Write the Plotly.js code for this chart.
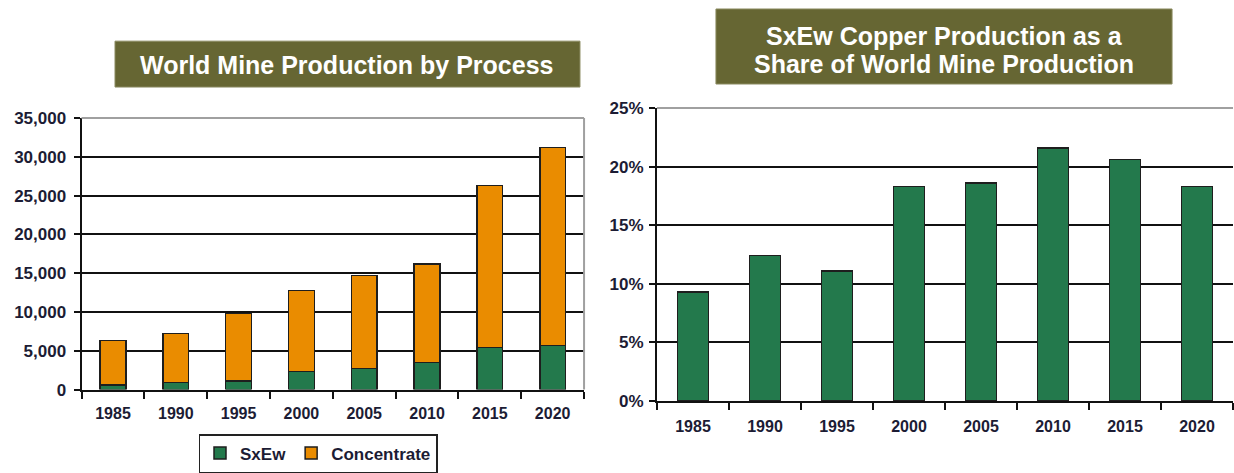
<!DOCTYPE html>
<html>
<head>
<meta charset="utf-8">
<script src="https://cdn.plot.ly/plotly-3.0.1.min.js"></script>
<style>
  html, body { margin: 0; padding: 0; background: #fff; }
  #chart { width: 1234px; height: 473px; }
</style>
</head>
<body>
<div id="chart"></div>
<script>
// years shared by both panels
var years = ['1985', '1990', '1995', '2000', '2005', '2010', '2015', '2020'];

// world mine production by process (kt copper)
var sxewProd = [590, 890, 1090, 2320, 2720, 3480, 5400, 5700];
var concProd = [5710, 6310, 8710, 10480, 11980, 12720, 20900, 25500];

// SxEw share of world mine production
var sxewShare = [0.093, 0.124, 0.111, 0.183, 0.186, 0.216, 0.206, 0.183];

var green = '#23794c';
var orange = '#ea8c00';
var outline = { color: '#1e1e1e', width: 1.5 };
var fam = 'Liberation Sans, Arial, sans-serif';

var tickFont = { family: fam, size: 17, color: '#1c1c34', weight: 'bold' };
var xFont = { family: fam, size: 16, color: '#1c1c34', weight: 'bold' };

var traceSx = {
    x: years, y: sxewProd, type: 'bar', name: 'SxEw',
    xaxis: 'x', yaxis: 'y', width: 0.41,
    marker: { color: green, line: outline }
};
var traceConc = {
    x: years, y: concProd, type: 'bar', name: 'Concentrate',
    xaxis: 'x', yaxis: 'y', width: 0.41,
    marker: { color: orange, line: outline }
};
var traceShare = {
    x: years, y: sxewShare, type: 'bar', name: 'Share',
    xaxis: 'x2', yaxis: 'y2', width: 0.43, showlegend: false,
    marker: { color: green, line: outline }
};

// category axis with ticks between the bars
function catAxis(domain, anchor, standoff) {
    return {
        domain: domain, anchor: anchor, type: 'category',
        showgrid: false, showline: true, linecolor: '#111', linewidth: 2,
        ticks: 'outside', tickson: 'boundaries', ticklen: 7, tickwidth: 2, tickcolor: '#111',
        ticklabelstandoff: standoff,
        tickfont: xFont, fixedrange: true
    };
}

function valAxis(domain, anchor, range, dtick, fmt, standoff) {
    return {
        domain: domain, anchor: anchor,
        range: range, dtick: dtick, tickformat: fmt,
        showgrid: true, gridcolor: '#111', gridwidth: 2,
        showline: true, linecolor: '#111', linewidth: 2,
        ticks: 'outside', ticklen: 6, tickwidth: 2, tickcolor: '#111',
        ticklabelstandoff: standoff,
        tickfont: tickFont, zeroline: false
    };
}

var titleFont = { family: fam, size: 25, color: '#fff', weight: 'bold' };

var layout = {
    width: 1234, height: 473,
    margin: { l: 0, r: 0, t: 0, b: 0 },
    paper_bgcolor: '#fff', plot_bgcolor: '#fff',
    barmode: 'stack',
    xaxis: catAxis([0.0661, 0.4733], 'y', 8),
    yaxis: valAxis([0.1763, 0.7505], 'x', [0, 35000], 5000, ',d', 4),
    xaxis2: catAxis([0.5324, 0.9992], 'y2', 10),
    yaxis2: valAxis([0.1522, 0.7717], 'x2', [0, 0.25], 0.05, '.0%', 2),
    legend: {
        orientation: 'h', x: 0.2577, y: 0, xanchor: 'center', yanchor: 'bottom',
        bordercolor: '#222', borderwidth: 1.5, bgcolor: '#fff',
        font: { family: fam, size: 17, color: '#1c1c34', weight: 'bold' },
        traceorder: 'normal', itemwidth: 30, tracegroupgap: 0
    },
    shapes: [
        // light plot borders (top / right)
        { type: 'line', xref: 'x domain', yref: 'y domain', x0: 0, x1: 1, y0: 1, y1: 1, line: { color: '#a0a0a0', width: 2 } },
        { type: 'line', xref: 'x domain', yref: 'y domain', x0: 1, x1: 1, y0: 0, y1: 1, line: { color: '#a0a0a0', width: 2 } },
        { type: 'line', xref: 'x2 domain', yref: 'y2 domain', x0: 0, x1: 1, y0: 1, y1: 1, line: { color: '#a0a0a0', width: 2 } },
        // title boxes
        { type: 'rect', layer: 'below', xref: 'paper', yref: 'paper', x0: 0.0932, x1: 0.470, y0: 0.816, y1: 0.913,
          fillcolor: '#666633', line: { color: '#8a8a60', width: 1 } },
        { type: 'rect', layer: 'below', xref: 'paper', yref: 'paper', x0: 0.5802, x1: 0.9498, y0: 0.8224, y1: 0.981,
          fillcolor: '#666633', line: { color: '#8a8a60', width: 1 } }
    ],
    annotations: [
        { xref: 'paper', yref: 'paper', x: 0.2816, y: 0.8625, xanchor: 'center', yanchor: 'middle',
          showarrow: false, text: 'World Mine Production by Process', font: titleFont },
        // right title, two lines set close together like the original
        { xref: 'paper', yref: 'paper', x: 0.765, y: 0.9239, xanchor: 'center', yanchor: 'middle',
          showarrow: false, text: 'SxEw Copper Production as a', font: titleFont },
        { xref: 'paper', yref: 'paper', x: 0.765, y: 0.8647, xanchor: 'center', yanchor: 'middle',
          showarrow: false, text: 'Share of World Mine Production', font: titleFont }
    ]
};

Plotly.newPlot('chart', [traceSx, traceConc, traceShare], layout, { displayModeBar: false, staticPlot: true });
</script>
</body>
</html>
